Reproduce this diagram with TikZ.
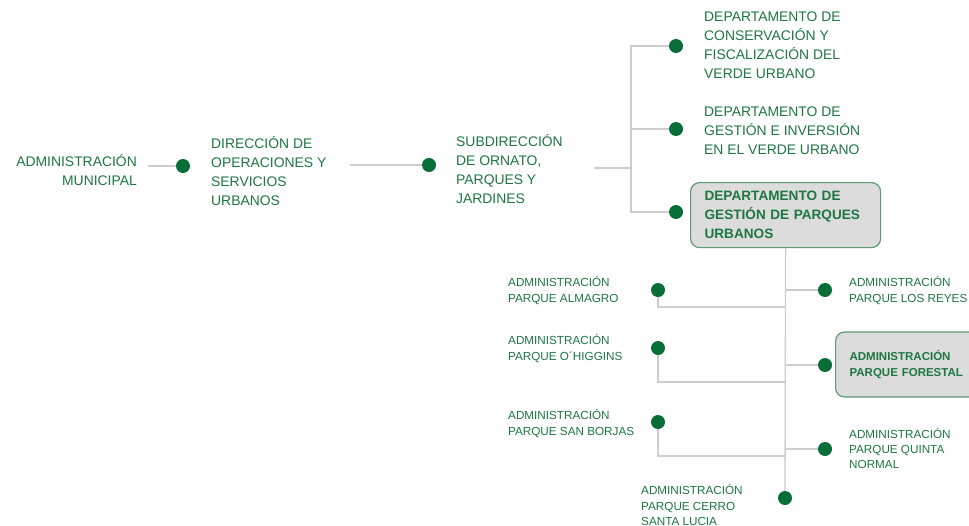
\documentclass[tikz,border=0pt]{standalone}
\usepackage{fontspec}
\setmainfont{Liberation Sans}
\definecolor{txtg}{RGB}{30,118,66}
\definecolor{dotg}{RGB}{8,110,56}
\definecolor{lineg}{RGB}{205,205,205}
\definecolor{boxf}{RGB}{220,220,220}
\definecolor{boxb}{RGB}{95,155,115}
\pgfdeclarelayer{bg}
\pgfsetlayers{bg,main}
\begin{document}
\begin{tikzpicture}[x=1pt,y=-1pt,
 big/.style={font=\fontsize{13.9}{19}\selectfont, text=txtg, inner sep=0pt, align=left, anchor=west},
 small/.style={font=\fontsize{11.7}{15.2}\selectfont, text=txtg, inner sep=0pt, align=left, anchor=west},
 dot/.style={circle, fill=dotg, minimum size=14pt, inner sep=0pt},
 conn/.style={draw=lineg, line width=1.3pt},
 hbox/.style={draw=boxb, fill=boxf, rounded corners=9pt, line width=1.2pt}]
\useasboundingbox (0,0) rectangle (969,525);

% top row
\node[big, align=right, anchor=east] (am) at (137,170) {ADMINISTRACIÓN\\MUNICIPAL};
\node[dot] (d1) at (183,166) {};
\node[big] (dir) at (211,171.5) {DIRECCIÓN DE\\OPERACIONES Y\\SERVICIOS\\URBANOS};
\node[dot] (d2) at (429,165) {};
\node[big] (sub) at (456,169.5) {SUBDIRECCIÓN\\DE ORNATO,\\PARQUES Y\\JARDINES};
\coordinate (l1a) at (148,166);
\coordinate (l2a) at (350,165);
\coordinate (l3a) at (594,168);
\coordinate (j1) at (631,168);

% departments
\node[dot] (dA) at (676,46) {};
\node[dot] (dB) at (676,129) {};
\node[dot] (dC) at (676,212) {};
\node[big] (dep1) at (704,45.5) {DEPARTAMENTO DE\\CONSERVACIÓN Y\\FISCALIZACIÓN DEL\\VERDE URBANO};
\node[big] (dep2) at (704,131) {DEPARTAMENTO DE\\GESTIÓN E INVERSIÓN\\EN EL VERDE URBANO};
\node[hbox, big, font=\fontsize{13.6}{19}\selectfont\bfseries, anchor=north west, inner xsep=14pt, text width=162pt, minimum height=65pt] (dep3) at (690,182) {DEPARTAMENTO DE\\GESTIÓN DE PARQUES\\URBANOS};

% parks right
\node[dot] (dR1) at (825,290) {};
\node[dot] (dR2) at (825,365) {};
\node[dot] (dR3) at (825,449) {};
\node[small] (pR1) at (849,290.5) {ADMINISTRACIÓN\\PARQUE LOS REYES};
\node[hbox, small, font=\fontsize{11.5}{15.2}\selectfont\bfseries, anchor=west, inner xsep=14pt, text width=130pt, minimum height=65pt] (pR2) at (835,364.5) {ADMINISTRACIÓN\\PARQUE FORESTAL};
\node[small] (pR3) at (849,448.5) {ADMINISTRACIÓN\\PARQUE QUINTA\\NORMAL};

% parks left
\node[dot] (dL1) at (658,290) {};
\node[dot] (dL2) at (658,348) {};
\node[dot] (dL3) at (658,422) {};
\node[small] (pL1) at (508,290.5) {ADMINISTRACIÓN\\PARQUE ALMAGRO};
\node[small] (pL2) at (508,348.5) {ADMINISTRACIÓN\\PARQUE O´HIGGINS};
\node[small] (pL3) at (508,423.5) {ADMINISTRACIÓN\\PARQUE SAN BORJAS};
\coordinate (k1) at (785,307);
\coordinate (k2) at (785,382);
\coordinate (k3) at (785,456);

% bottom
\node[dot] (dBot) at (785,498) {};
\node[small] (pBot) at (641,505) {ADMINISTRACIÓN\\PARQUE CERRO\\SANTA LUCIA};

\begin{pgfonlayer}{bg}
\draw[conn] (l1a) -- (d1.center);
\draw[conn] (l2a) -- (d2.center);
\draw[conn] (l3a) -- (j1);
\draw[conn] (dA.center) -| (j1) |- (dC.center);
\draw[conn] (dB.center) -- (dB.center -| j1);
\draw[conn] (dep3.south) -- (dBot.center);
\draw[conn] (dR1.center) -- (dR1.center -| dep3.south);
\draw[conn] (dR2.center) -- (dR2.center -| dep3.south);
\draw[conn] (dR3.center) -- (dR3.center -| dep3.south);
\draw[conn] (dL1.center) |- (k1);
\draw[conn] (dL2.center) |- (k2);
\draw[conn] (dL3.center) |- (k3);
\end{pgfonlayer}
\end{tikzpicture}
\end{document}
